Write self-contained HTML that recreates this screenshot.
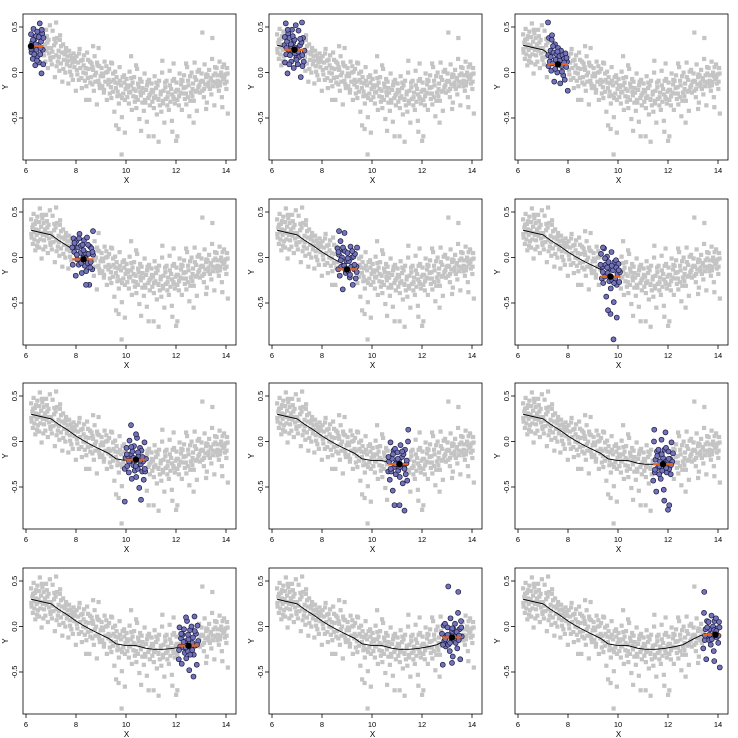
<!DOCTYPE html>
<html><head><meta charset="utf-8">
<style>
html,body{margin:0;padding:0;background:#fff;}
svg{display:block;font-family:"Liberation Sans",sans-serif;}
</style></head>
<body>
<svg id="chart" width="738" height="738" viewBox="0 0 738 738"></svg>
<script>
const ptX=[6.20,6.22,6.25,6.27,6.30,6.32,6.35,6.37,6.40,6.42,6.45,6.47,6.50,6.52,6.55,6.57,6.60,6.62,6.65,6.67,6.70,6.72,6.75,6.77,6.80,6.82,6.85,6.87,6.90,6.92,6.95,6.97,
7.00,7.03,7.06,7.09,7.12,7.15,7.18,7.21,7.24,7.27,7.30,7.33,7.36,7.39,7.42,7.45,7.48,7.51,7.54,7.57,7.60,7.63,7.66,7.69,7.72,7.75,7.78,7.81,7.84,7.87,7.90,7.93,7.96,7.99,7.20,7.35,
8.02,8.05,8.08,8.11,8.14,8.17,8.20,8.23,8.26,8.29,8.32,8.35,8.38,8.41,8.44,8.47,8.50,8.53,8.56,8.59,8.62,8.65,8.68,8.71,8.74,8.77,8.80,8.83,8.86,8.89,8.92,8.95,8.98,8.68,8.90,8.40,
9.02,9.05,9.08,9.11,9.14,9.17,9.20,9.23,9.26,9.29,9.32,9.35,9.38,9.41,9.44,9.47,9.50,9.53,9.56,9.59,9.62,9.65,9.68,9.71,9.74,9.77,9.80,9.83,9.86,9.89,9.92,9.95,9.98,9.82,9.70,9.60,9.95,9.40,
10.02,10.05,10.08,10.11,10.14,10.17,10.20,10.23,10.26,10.29,10.32,10.35,10.38,10.41,10.44,10.47,10.50,10.53,10.56,10.59,10.62,10.65,10.68,10.71,10.74,10.77,10.80,10.83,10.86,10.89,10.92,10.95,10.98,10.20,10.60,10.90,10.40,
11.02,11.05,11.08,11.11,11.14,11.17,11.20,11.23,11.26,11.29,11.32,11.35,11.38,11.41,11.44,11.47,11.50,11.53,11.56,11.59,11.62,11.65,11.68,11.71,11.74,11.77,11.80,11.83,11.86,11.89,11.92,11.95,11.98,11.30,11.10,11.85,11.45,11.90,
12.02,12.05,12.08,12.11,12.14,12.17,12.20,12.23,12.26,12.29,12.32,12.35,12.38,12.41,12.44,12.47,12.50,12.53,12.56,12.59,12.62,12.65,12.68,12.71,12.74,12.77,12.80,12.83,12.86,12.89,12.92,12.95,12.98,12.00,12.05,12.40,12.70,
13.02,13.05,13.08,13.11,13.14,13.17,13.20,13.23,13.26,13.29,13.32,13.35,13.38,13.41,13.44,13.47,13.50,13.53,13.56,13.59,13.62,13.65,13.68,13.71,13.74,13.77,13.80,13.83,13.86,13.89,13.92,13.95,13.98,14.01,14.04,14.07,13.05,13.45,13.20,13.85,
6.21,6.28,6.33,6.39,6.44,6.51,6.58,6.63,6.69,6.76,6.83,6.91,6.98,7.05,7.13,7.22,7.31,7.40,7.49,7.58,7.67,7.76,7.85,7.94,
8.03,8.12,8.21,8.30,8.39,8.48,8.57,8.66,8.75,8.84,8.93,9.03,9.12,9.21,9.30,9.39,9.48,9.57,9.66,9.75,9.84,9.93,
10.03,10.12,10.21,10.30,10.39,10.48,10.57,10.66,10.75,10.84,10.93,11.03,11.12,11.21,11.30,11.39,11.48,11.57,11.66,11.75,11.84,11.93,
12.03,12.12,12.21,12.30,12.39,12.48,12.57,12.66,12.75,12.84,12.93,13.03,13.12,13.21,13.30,13.39,13.48,13.57,13.66,13.75,13.84,13.93,14.02,14.06];
const ptY=[.42,.22,.33,.15,.48,.28,.37,.08,.40,.25,.45,.18,.30,.11,.54,.20,.34,-.01,.43,.25,.38,.19,.29,.12,.47,.24,.33,.05,.36,.21,.52,.16,
.27,.09,.46,.17,.30,-.05,.33,.19,.38,.12,.24,.02,.41,.10,.22,-.10,.31,.14,.20,.00,.27,.09,.18,-.12,.24,.07,.19,-.03,.15,-.08,.21,.06,.12,-.20,.55,.36,
.18,-.02,.11,-.08,.26,.05,.13,-.17,.14,.00,.19,-.09,.05,-.15,.22,-.06,.04,-.30,.12,-.05,.10,-.13,.03,-.20,.18,-.10,.00,-.35,.08,-.09,.07,-.17,-.04,.29,.27,-.30,
.05,-.15,-.04,-.22,.12,-.10,.00,-.30,.01,-.13,.04,-.23,-.10,-.28,.10,-.21,-.08,-.43,.01,-.17,-.05,-.26,-.12,-.34,.06,-.25,-.14,-.49,-.05,-.23,-.03,-.30,-.18,-.90,-.62,-.58,-.66,.11,
-.07,-.27,-.16,-.34,.01,-.21,-.14,-.41,-.11,-.26,-.05,-.32,-.20,-.39,.04,-.30,-.16,-.51,-.07,-.25,-.10,-.33,-.22,-.42,-.01,-.33,-.19,-.54,-.10,-.28,-.08,-.36,-.23,.18,-.64,-.70,.08,
-.12,-.32,-.21,-.39,-.04,-.26,-.17,-.46,-.14,-.29,-.09,-.36,-.24,-.43,.00,-.34,-.20,-.55,-.11,-.29,-.09,-.36,-.22,-.41,.02,-.32,-.18,-.53,-.09,-.27,-.07,-.34,-.21,-.76,-.70,-.65,.13,.10,
-.11,-.30,-.19,-.36,-.01,-.22,-.13,-.41,-.09,-.23,-.03,-.29,-.16,-.35,.06,-.27,-.14,-.48,-.04,-.22,.00,-.26,-.12,-.31,.11,-.21,-.08,-.42,.01,-.16,.03,-.22,-.10,-.75,-.70,.10,-.55,
-.01,-.20,-.10,-.27,.09,-.13,-.05,-.33,-.03,-.15,.03,-.18,-.07,-.24,.15,-.15,-.03,-.36,.06,-.11,.05,-.15,-.03,-.20,.12,-.10,.00,-.27,.06,-.07,.09,-.12,-.02,-.18,.05,-.45,.44,.38,-.40,-.38,
.26,.36,.20,.31,.13,.39,.27,.47,.09,.31,.40,.27,.14,.23,.37,.07,.17,.29,.04,.23,.13,.01,.11,.16,
.03,.21,-.06,.08,-.01,.14,-.11,.06,-.03,.11,-.13,-.01,-.19,.07,-.08,-.16,-.01,-.11,-.21,-.09,-.28,-.11,
-.14,-.22,-.06,-.18,-.27,-.12,-.21,-.17,-.30,-.14,-.25,-.19,-.28,-.11,-.30,-.21,-.31,-.16,-.27,-.14,-.24,-.29,
-.19,-.26,-.08,-.17,-.23,-.09,-.31,-.18,-.05,-.20,-.14,-.09,-.18,-.02,-.11,-.06,-.10,-.01,-.09,-.14,-.04,-.05,-.10,-.01];
const targets=[6.2,6.9,7.6,8.3,9.0,9.7,10.4,11.1,11.8,12.5,13.2,13.9];
const winLo=[6.2,6.5,7.2,7.85,8.6,9.3,9.95,10.65,11.4,12.1,12.8,13.4];
const winHi=[6.7,7.3,8.0,8.7,9.4,10.1,10.8,11.45,12.2,12.9,13.6,14.1];
const fitY=[0.29,0.25,0.09,-0.02,-0.13,-0.21,-0.20,-0.25,-0.25,-0.21,-0.12,-0.09];
const curveX=[6.2,6.5,7.0,7.3,7.7,8.0,8.3,8.7,9.0,9.3,9.6,10.0,10.4,10.8,11.1,11.5,11.9,12.3,12.6,13.0,13.3,13.6,13.9];
const curveY=[0.30,0.28,0.25,0.19,0.12,0.06,0.01,-0.05,-0.09,-0.13,-0.19,-0.21,-0.21,-0.24,-0.25,-0.25,-0.24,-0.22,-0.20,-0.14,-0.10,-0.08,-0.09];
const xTicks=[6,8,10,12,14];
const yTicks=[0.5,0.0,-0.5];
const yTickLabels=["0.5","0.0","-0.5"];

const NS="http://www.w3.org/2000/svg";
const svg=document.getElementById('chart');
function mk(tag,attrs,parent){const e=document.createElementNS(NS,tag);for(const k in attrs)e.setAttribute(k,attrs[k]);(parent||svg).appendChild(e);return e;}
const W=213,H=146;
for(let p=0;p<12;p++){
  const col=p%3,row=Math.floor(p/3);
  const L=23+col*246,T=14+Math.round(row*184.5);
  const sx=x=>L+3+(x-6)*25;
  const sy=y=>T+13+(0.5-y)*91;
  const g=mk('g',{});
  
  
  for(let i=0;i<ptX.length;i++){
    const r=mk('rect',{x:sx(ptX[i])-2,y:sy(ptY[i])-2,width:4.2,height:4.2,fill:'#c4c4c4'},g);
    
    
  }
  let pts=[];
  for(let i=0;i<curveX.length;i++){ if(curveX[i]<=targets[p]+1e-9) pts.push(sx(curveX[i]).toFixed(1)+','+sy(curveY[i]).toFixed(1)); }
  if(pts.length>1){
    const pl=mk('polyline',{points:pts.join(' '),fill:'none',stroke:'#000','stroke-width':0.9},g);
    
    
  }
  for(let i=0;i<ptX.length;i++){
    if(ptX[i]>=winLo[p]&&ptX[i]<=winHi[p]){
      const c=mk('circle',{cx:sx(ptX[i]),cy:sy(ptY[i]),r:2.5,fill:'#7272b8',stroke:'#1a1a40','stroke-width':0.7},g);
      
      
    }
  }
  const ln=mk('line',{x1:sx(winLo[p]),x2:sx(winHi[p]),y1:sy(fitY[p]),y2:sy(fitY[p]),stroke:'#e8651a','stroke-width':2.2},g);
  
  
  const dot=mk('circle',{cx:sx(targets[p]),cy:sy(fitY[p]),r:3.2,fill:'#000'},g);
  
  
  const box=mk('rect',{x:L,y:T,width:W,height:H,fill:'none',stroke:'#000','stroke-width':0.8},g);
  
  
  for(const t of xTicks){
    mk('line',{x1:sx(t),x2:sx(t),y1:T+H,y2:T+H+4,stroke:'#000','stroke-width':0.8},g);
    const tx=mk('text',{x:sx(t),y:T+H+13,'font-size':7.5,'text-anchor':'middle'},g);
    tx.textContent=t;
    
    
  }
  const xl=mk('text',{x:L+W/2-3,y:T+H+23,'font-size':8,'text-anchor':'middle'},g);
  xl.textContent='X';
  
  
  for(let k=0;k<yTicks.length;k++){
    const yy=sy(yTicks[k]);
    mk('line',{x1:L-4,x2:L,y1:yy,y2:yy,stroke:'#000','stroke-width':0.8},g);
    const ty=mk('text',{x:L-6,y:yy,'font-size':7.5,'text-anchor':'middle',transform:`rotate(-90 ${L-6} ${yy})`},g);
    ty.textContent=yTickLabels[k];
    
    
  }
  const yl=mk('text',{x:L-15,y:T+73,'font-size':8,'text-anchor':'middle',transform:`rotate(-90 ${L-15} ${T+73})`},g);
  yl.textContent='Y';
  
  
}
</script>
</body></html>
